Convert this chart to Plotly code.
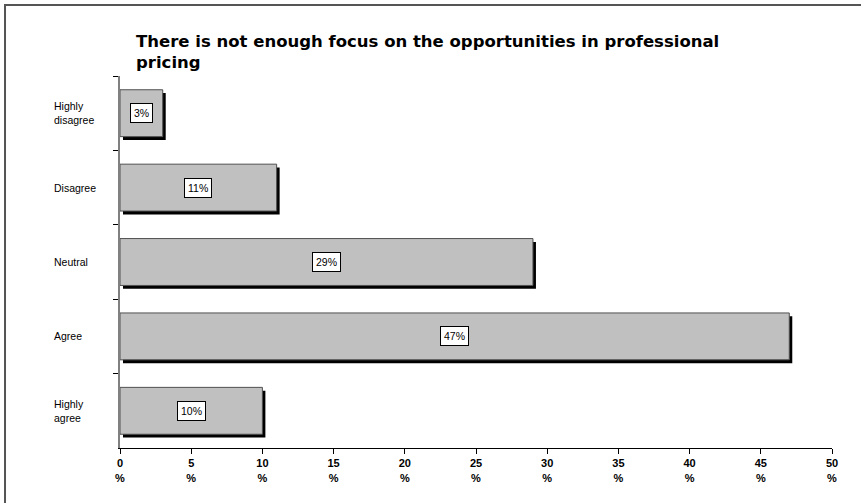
import plotly.graph_objects as go

# Survey answers, top to bottom
categories = ["Highly<br>disagree", "Disagree", "Neutral", "Agree", "Highly<br>agree"]
shares = [3, 11, 29, 47, 10]
x_ticks = [0, 5, 10, 15, 20, 25, 30, 35, 40, 45, 50]

title_text = "There is not enough focus on the opportunities in professional<br>pricing"

FONT = "Liberation Sans, Arial, sans-serif"
TITLE_FONT = "DejaVu Sans, Verdana, sans-serif"
BAR_W = 0.63
SHADOW_DX = 0.21     # horizontal drop-shadow shift, in % units
SHADOW_DY = 0.045    # vertical drop-shadow shift, in category units

fig = go.Figure()

# drop shadow behind each bar
fig.add_trace(go.Bar(
    y=categories, x=shares, base=SHADOW_DX, orientation="h",
    width=BAR_W, offset=-BAR_W / 2 + SHADOW_DY,
    marker=dict(color="black", line=dict(width=0)),
    hoverinfo="skip", showlegend=False,
))

# grey bars
fig.add_trace(go.Bar(
    y=categories, x=shares, orientation="h",
    width=BAR_W, offset=-BAR_W / 2,
    marker=dict(color="#c0c0c0", line=dict(color="#505050", width=1)),
    showlegend=False,
))

annotations = []
# chart heading, left-aligned above the plot
annotations.append(dict(
    x=0.0197, y=1.125, xref="paper", yref="paper", text=f"<b>{title_text}</b>",
    showarrow=False, font=dict(family=TITLE_FONT, size=16.5, color="black"),
    xanchor="left", yanchor="top", align="left",
))
# value boxes centred in each bar
for cat, v in zip(categories, shares):
    annotations.append(dict(
        x=v / 2, y=cat, xref="x", yref="y", text=f"{v}%", showarrow=False,
        font=dict(family=FONT, size=10.5, color="black"),
        bgcolor="white", bordercolor="black", borderwidth=1, borderpad=3,
        xanchor="center", yanchor="middle",
    ))
# left-aligned category names
for cat in categories:
    annotations.append(dict(
        x=-0.0955, y=cat, xref="paper", yref="y", text=cat, showarrow=False,
        font=dict(family=FONT, size=10.5, color="black"),
        xanchor="left", yanchor="middle", align="left",
    ))

fig.update_layout(
    width=861, height=503,
    margin=dict(l=120, r=29, t=76, b=55, pad=0),
    paper_bgcolor="white", plot_bgcolor="white",
    barmode="overlay",
    font=dict(family=FONT, color="black"),
    xaxis=dict(
        range=[0, 50], tickvals=x_ticks,
        ticktext=[f"<b>{t}</b><br><b>%</b>" for t in x_ticks],
        tickfont=dict(family=FONT, size=11, color="black"),
        ticks="outside", ticklen=5, tickcolor="black", tickwidth=1,
        showline=True, linecolor="black", linewidth=1,
        showgrid=False, zeroline=False, fixedrange=True,
    ),
    yaxis=dict(
        type="category", categoryorder="array", categoryarray=categories,
        autorange="reversed", tickson="boundaries",
        ticks="outside", ticklen=5, tickcolor="black", tickwidth=1,
        showticklabels=False,
        showline=True, linecolor="#808080", linewidth=2,
        showgrid=False, zeroline=False, fixedrange=True,
    ),
    annotations=annotations,
    shapes=[dict(
        type="rect", xref="paper", yref="paper",
        x0=-0.1615, x1=1.1, y0=-0.3, y1=1.1909,
        line=dict(color="#555555", width=2), fillcolor="rgba(0,0,0,0)",
        layer="below",
    )],
)

fig.write_html("out.html")
